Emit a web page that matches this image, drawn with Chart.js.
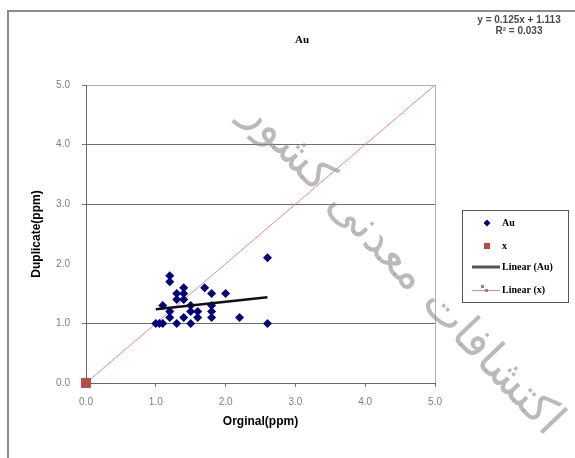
<!DOCTYPE html>
<html>
<head>
<meta charset="utf-8">
<script src="https://cdn.jsdelivr.net/npm/chart.js@4.4.0/dist/chart.umd.min.js"></script>
<style>
html, body { margin: 0; padding: 0; background: #fff; }
</style>
</head>
<body>
<canvas id="chartId" width="575" height="458"></canvas>
<script>
// Au: original vs duplicate assays (ppm)
var auOriginal  = [1.0, 1.05, 1.1, 1.1, 1.2, 1.2, 1.2, 1.2, 1.3, 1.3, 1.3, 1.4, 1.4, 1.4, 1.4, 1.5, 1.5, 1.5, 1.6, 1.6, 1.7, 1.8, 1.8, 1.8, 1.8, 2.0, 2.2, 2.6, 2.6];
var auDuplicate = [1.0, 1.0, 1.0, 1.3, 1.8, 1.7, 1.2, 1.1, 1.5, 1.4, 1.0, 1.6, 1.5, 1.4, 1.1, 1.3, 1.2, 1.0, 1.2, 1.1, 1.6, 1.5, 1.3, 1.2, 1.1, 1.5, 1.1, 2.1, 1.0];

// "x" series (reference 1:1)
var xOriginal  = [0.0];
var xDuplicate = [0.0];

// trendlines: [slope, intercept]
var trendAu = [0.125, 1.113];
var trendX  = [1.0, 0.0];
var rSquaredAu = "0.033";

var tickValues = [0, 1, 2, 3, 4, 5];
var watermark = "اکتشافات معدنی کشور";

function toPoints(xs, ys) {
    return xs.map(function (x, i) { return { x: x, y: ys[i] }; });
}
function trendPoints(coef, xFrom, xTo) {
    return [
        { x: xFrom, y: coef[0] * xFrom + coef[1] },
        { x: xTo, y: coef[0] * xTo + coef[1] }
    ];
}

var axisMin = tickValues[0];
var axisMax = tickValues[tickValues.length - 1];
var clear = 'rgba(0,0,0,0)';

var decor = {
    id: 'decor',
    beforeDraw: function (chart) {
        var ctx = chart.ctx;
        ctx.save();
        ctx.fillStyle = '#fff';
        ctx.fillRect(0, 0, chart.width, chart.height);
        ctx.strokeStyle = '#8c8c8c';
        ctx.lineWidth = 2;
        ctx.strokeRect(8, 11, chart.width + 20, chart.height + 20);
        ctx.restore();
    },
    afterDraw: function (chart) {
        var ctx = chart.ctx;
        ctx.save();

        // title
        ctx.fillStyle = '#000';
        ctx.textAlign = 'center';
        ctx.textBaseline = 'middle';
        ctx.font = 'bold 11px "Liberation Serif"';
        ctx.fillText('Au', 302, 40);

        // trend equation
        ctx.fillStyle = '#4a4a4a';
        ctx.font = 'bold 10px "Liberation Sans"';
        ctx.fillText('y = ' + trendAu[0] + 'x + ' + trendAu[1], 519, 20);
        ctx.fillText('R² = ' + rSquaredAu, 519, 31);

        // legend
        ctx.strokeStyle = '#555';
        ctx.lineWidth = 1;
        ctx.strokeRect(462.5, 210.5, 106, 92);
        ctx.font = 'bold 10px "Liberation Serif"';
        ctx.textAlign = 'left';
        ctx.fillStyle = '#000';
        ctx.fillText('Au', 502, 223);
        ctx.fillText('x', 502, 246);
        ctx.fillText('Linear (Au)', 502, 267);
        ctx.fillText('Linear (x)', 502, 290);

        ctx.fillStyle = '#000080';
        ctx.beginPath();
        ctx.moveTo(487, 219.5); ctx.lineTo(490.5, 223); ctx.lineTo(487, 226.5); ctx.lineTo(483.5, 223);
        ctx.closePath();
        ctx.fill();
        ctx.fillStyle = '#b84a46';
        ctx.fillRect(484, 243, 6, 6);
        ctx.strokeStyle = '#555';
        ctx.lineWidth = 3;
        ctx.beginPath(); ctx.moveTo(472, 267); ctx.lineTo(500, 267); ctx.stroke();
        ctx.strokeStyle = '#e08a8a';
        ctx.lineWidth = 1;
        ctx.beginPath(); ctx.moveTo(472, 290.5); ctx.lineTo(500, 290.5); ctx.stroke();
        ctx.fillStyle = '#888';
        ctx.fillRect(481, 285, 3, 3);
        ctx.fillRect(485, 289, 3, 3);

        // watermark
        ctx.translate(402, 268);
        ctx.rotate(46.5 * Math.PI / 180);
        ctx.font = '40px "DejaVu Sans"';
        var w = ctx.measureText(watermark).width;
        var size = Math.round(40 * 440 / w);
        ctx.font = size + 'px "DejaVu Sans"';
        ctx.direction = 'rtl';
        ctx.textAlign = 'center';
        ctx.fillStyle = 'rgba(140,140,140,0.6)';
        ctx.fillText(watermark, 0, 0);
        ctx.restore();
    }
};

var chrt = document.getElementById("chartId").getContext("2d");
var chartId = new Chart(chrt, {
    type: 'scatter',
    data: {
        datasets: [
            {
                label: "Au",
                data: toPoints(auOriginal, auDuplicate),
                pointStyle: 'rectRot',
                pointRadius: 4.5,
                backgroundColor: '#000080',
                borderColor: '#000080',
                borderWidth: 0,
                order: 1
            },
            {
                label: "x",
                data: toPoints(xOriginal, xDuplicate),
                pointStyle: 'rect',
                pointRadius: 7,
                backgroundColor: '#b84a46',
                borderColor: '#b84a46',
                borderWidth: 0,
                clip: false,
                order: 1
            },
            {
                label: "Linear (Au)",
                type: 'line',
                data: trendPoints(trendAu, Math.min.apply(null, auOriginal), Math.max.apply(null, auOriginal)),
                borderColor: '#111',
                borderWidth: 2.5,
                pointRadius: 0,
                fill: false,
                order: 0
            },
            {
                label: "Linear (x)",
                type: 'line',
                data: trendPoints(trendX, axisMin, axisMax),
                borderColor: '#e08a8a',
                borderWidth: 1,
                pointRadius: 0,
                fill: false,
                order: 3
            }
        ]
    },
    options: {
        responsive: false,
        animation: false,
        layout: { padding: { left: 0, top: 85, right: 140, bottom: 0 } },
        plugins: {
            legend: { display: false },
            tooltip: { enabled: false }
        },
        scales: {
            x: {
                type: 'linear',
                min: axisMin,
                max: axisMax,
                afterBuildTicks: function (scale) {
                    scale.ticks = tickValues.map(function (v) { return { value: v }; });
                },
                afterFit: function (scale) { scale.height = 75; },
                ticks: {
                    padding: 9,
                    color: '#7f7f7f',
                    font: { family: 'Liberation Sans', size: 10 },
                    callback: function (v) { return Number(v).toFixed(1); }
                },
                grid: {
                    color: function (c) { return c.tick && c.tick.value === axisMax ? '#b0b0b0' : clear; },
                    tickColor: '#777',
                    tickLength: 4
                },
                border: { color: '#666', width: 1 },
                title: {
                    display: true,
                    text: 'Orginal(ppm)',
                    color: '#000',
                    font: { family: 'Liberation Sans', size: 12, weight: 'bold' },
                    padding: { top: 0, bottom: 29 }
                }
            },
            y: {
                type: 'linear',
                min: axisMin,
                max: axisMax,
                afterBuildTicks: function (scale) {
                    scale.ticks = tickValues.map(function (v) { return { value: v }; });
                },
                afterFit: function (scale) { scale.width = 86; },
                ticks: {
                    padding: 12,
                    color: '#7f7f7f',
                    font: { family: 'Liberation Sans', size: 10 },
                    callback: function (v) { return Number(v).toFixed(1); }
                },
                grid: {
                    color: function (c) {
                        var v = c.tick ? c.tick.value : -1;
                        if (v === 0 || v === 2) return clear;
                        return v === axisMax ? '#b0b0b0' : '#6e6e6e';
                    },
                    tickColor: function (c) { return c.tick && c.tick.value === 2 ? clear : '#777'; },
                    tickLength: 4
                },
                border: { color: '#666', width: 1 },
                title: {
                    display: true,
                    text: 'Duplicate(ppm)',
                    color: '#000',
                    font: { family: 'Liberation Sans', size: 12, weight: 'bold' },
                    padding: { top: 29, bottom: 0 }
                }
            }
        }
    },
    plugins: [decor]
});
</script>
</body>
</html>
